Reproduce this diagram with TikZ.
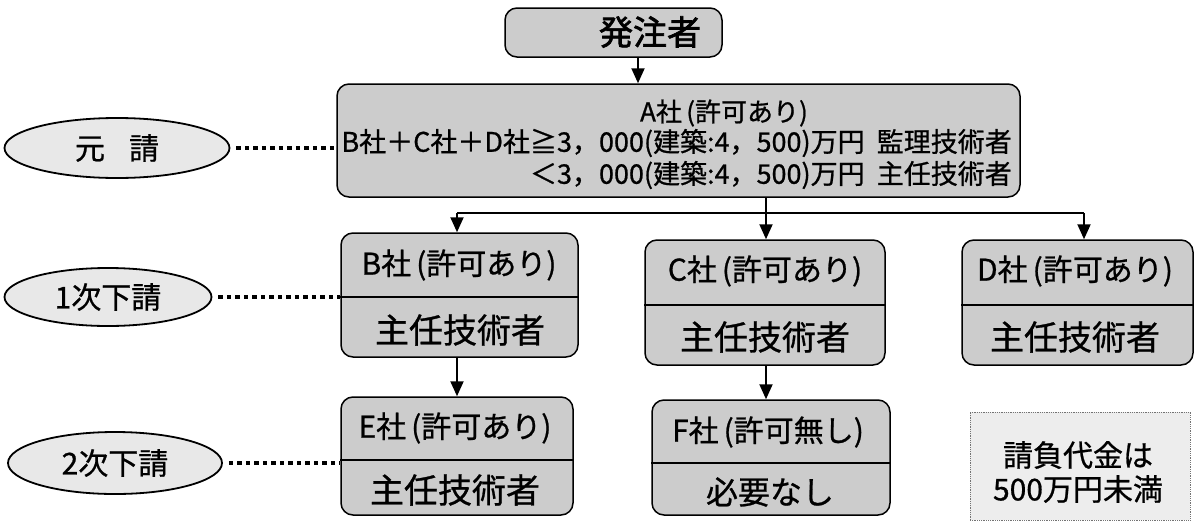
\documentclass[tikz,border=0pt]{standalone}
\usepackage{fontspec}
\newfontfamily\jp[FakeBold=0.8]{Noto Sans CJK JP}
\newfontfamily\jpb[FakeBold=2]{Noto Sans CJK JP}
\usetikzlibrary{arrows.meta,shapes.geometric}
\tikzset{
  box/.style={draw, line width=1.5pt, rounded corners=12pt, fill=black!20, inner sep=0pt},
  oval/.style={ellipse, draw, line width=1.8pt, fill=black!9, inner sep=0pt, font=\jp\fontsize{30}{32}\selectfont},
  note/.style={draw=black!55, densely dotted, line width=0.8pt, fill=black!7, inner sep=0pt},
  txt/.style={inner sep=0pt, font=\jp\fontsize{#1}{#1}\selectfont},
  txt/.default=28,
  divider/.style={line width=1.8pt},
  conn/.style={line width=2pt},
  arr/.style={line width=2pt, -{Triangle[length=15pt,width=13pt]}},
  dotline/.style={line width=4.5pt, dash pattern=on 4.5pt off 4pt, shorten <=6pt}
}
\begin{document}
\begin{tikzpicture}[x=1pt,y=-1pt]
\useasboundingbox (0,0) rectangle (1198,522);
% boxes
\node[box, minimum width=217pt, minimum height=49pt] (H) at (613.5,32.5) {};
\node[box, minimum width=683pt, minimum height=113pt] (A) at (678.5,140.5) {};
\node[box, minimum width=237pt, minimum height=124pt] (B) at (459.5,295) {};
\node[box, minimum width=240pt, minimum height=125pt] (C) at (765,302.5) {};
\node[box, minimum width=231pt, minimum height=125pt] (D) at (1077.5,302.5) {};
\node[box, minimum width=232pt, minimum height=118pt] (E) at (457,456) {};
\node[box, minimum width=238pt, minimum height=115pt] (F) at (771,457.5) {};
\node[note, minimum width=220pt, minimum height=108pt] (N) at (1080,466) {};
% ellipses
\node[oval, minimum width=225pt, minimum height=60pt] (e1) at (117,148) {元\hspace{0.8em}請};
\node[oval, minimum width=207pt, minimum height=58pt] (e2) at (108,297) {1次下請};
\node[oval, minimum width=214pt, minimum height=62pt] (e3) at (115,463) {2次下請};
% dividers
\coordinate (yB) at (0,297);
\coordinate (yC) at (0,305);
\coordinate (yE) at (0,460);
\coordinate (yF) at (0,463);
\draw[divider] (B.west |- yB) -- (B.east |- yB);
\draw[divider] (C.west |- yC) -- (C.east |- yC);
\draw[divider] (D.west |- yC) -- (D.east |- yC);
\draw[divider] (E.west |- yE) -- (E.east |- yE);
\draw[divider] (F.west |- yF) -- (F.east |- yF);
% texts
\node[inner sep=0pt, font=\jpb\fontsize{34}{34}\selectfont] (Ht) at (650,32) {発注者};
\node[txt=26] (At1) at (724,113) {A社\,(許可あり)};
\node[txt=27, anchor=east] (At2) at (1012,143) {B社＋C社＋D社≧3，000(建築:4，500)万円\hspace{0.45em}監理技術者};
\node[txt=27, anchor=east] (At3) at (1012,175) {＜3，000(建築:4，500)万円\hspace{0.45em}主任技術者};
\node[txt=30] (Bt) at (459,265) {B社\,(許可あり)};
\node[txt=34] (Bb) at (460,330) {主任技術者};
\node[txt=30] (Ct) at (765,271) {C社\,(許可あり)};
\node[txt=34] (Cb) at (765,337) {主任技術者};
\node[txt=30] (Dt) at (1075,271) {D社\,(許可あり)};
\node[txt=34] (Db) at (1075,337) {主任技術者};
\node[txt=30] (Et) at (455,428) {E社\,(許可あり)};
\node[txt=34] (Eb) at (455,490) {主任技術者};
\node[txt=30] (Ft) at (768,432) {F社\,(許可無し)};
\node[txt=32] (Fb) at (770,492) {必要なし};
\node[txt=30, align=center] (Nt) at (1078,472) {請負代金は\\[4pt]500万円未満};
% connectors
\coordinate (p1) at (638,0);
\draw[arr] (H.south -| p1) -- (A.north -| p1);
\coordinate (j) at (766,213);
\coordinate (pB) at (457,0);
\coordinate (pD) at (1084,0);
\draw[conn] (A.south -| j) -- (j);
\draw[conn] (j -| pB) -- (j -| pD);
\draw[arr] (j -| pB) -- (B.north -| pB);
\draw[arr] (j) -- (C.north -| j);
\draw[arr] (j -| pD) -- (D.north -| pD);
\draw[arr] (B.south -| pB) -- (E.north -| pB);
\draw[arr] (C.south -| j) -- (F.north -| j);
% dotted level lines
\draw[dotline] (e1.east) -- (A.west |- e1.east);
\draw[dotline] (e2.east) -- (B.west |- e2.east);
\draw[dotline] (e3.east) -- (E.west |- e3.east);
\end{tikzpicture}
\end{document}
